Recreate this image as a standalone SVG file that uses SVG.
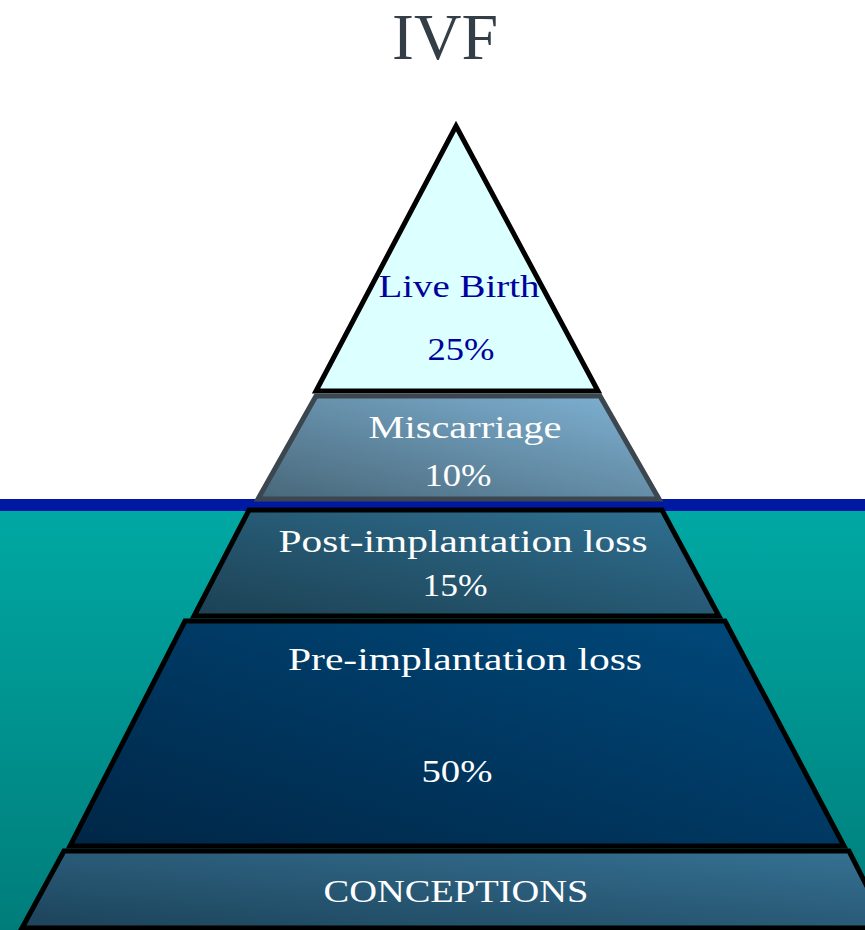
<svg xmlns="http://www.w3.org/2000/svg" width="865" height="930" viewBox="0 0 865 930">
  <defs>
    <linearGradient id="water" x1="0" y1="0" x2="0" y2="1">
      <stop offset="0" stop-color="#00a8a3"/>
      <stop offset="1" stop-color="#007d7b"/>
    </linearGradient>
    <linearGradient id="gMisc" x1="0" y1="1" x2="1" y2="0">
      <stop offset="0" stop-color="#486779"/>
      <stop offset="1" stop-color="#80b3d5"/>
    </linearGradient>
    <linearGradient id="gPost" x1="0" y1="1" x2="1" y2="0">
      <stop offset="0" stop-color="#1c4153"/>
      <stop offset="1" stop-color="#307193"/>
    </linearGradient>
    <linearGradient id="gPre" x1="0" y1="1" x2="1" y2="0">
      <stop offset="0" stop-color="#002646"/>
      <stop offset="1" stop-color="#004a7d"/>
    </linearGradient>
    <linearGradient id="gConc" x1="0" y1="1" x2="1" y2="0">
      <stop offset="0" stop-color="#1c435a"/>
      <stop offset="1" stop-color="#367294"/>
    </linearGradient>
  </defs>
  <style>
    .lbl { font-family: "Liberation Serif", "DejaVu Serif", serif; font-size: 32px; text-anchor: middle; fill: #ffffff; }
    .dark { fill: #00009c; }
    .edge { stroke: #000000; stroke-width: 5; stroke-linejoin: miter; }
    .title { font-family: "Liberation Serif", "DejaVu Serif", serif; font-size: 65px; text-anchor: middle; fill: #333e47; }
  </style>

  <!-- sea surface and water -->
  <g id="sea">
    <rect x="0" y="0" width="865" height="930" fill="#ffffff"/>
    <rect x="0" y="510" width="865" height="420" fill="url(#water)"/>
    <rect x="0" y="499" width="865" height="12" fill="#0019a2"/>
  </g>

  <text class="title" x="445" y="59" textLength="106" lengthAdjust="spacingAndGlyphs">IVF</text>

  <g id="live-birth">
    <polygon class="edge" points="456,126 598,391 316,391" fill="#dcffff" stroke-width="4"/>
    <text class="lbl dark" x="459" y="297" textLength="161" lengthAdjust="spacingAndGlyphs">Live Birth</text>
    <text class="lbl dark" x="461" y="360" textLength="67" lengthAdjust="spacingAndGlyphs">25%</text>
  </g>

  <g id="miscarriage">
    <polygon points="316,396 600,396 659,499 258,499" fill="url(#gMisc)" stroke="#3b464e" stroke-width="5"/>
    <text class="lbl" x="465" y="438" textLength="193" lengthAdjust="spacingAndGlyphs">Miscarriage</text>
    <text class="lbl" x="458" y="486" textLength="67" lengthAdjust="spacingAndGlyphs">10%</text>
  </g>

  <g id="post-implantation">
    <polygon class="edge" points="249,510 662,510 719,616 194,616" fill="url(#gPost)"/>
    <text class="lbl" x="463" y="552" textLength="369" lengthAdjust="spacingAndGlyphs">Post-implantation loss</text>
    <text class="lbl" x="455" y="596" textLength="65" lengthAdjust="spacingAndGlyphs">15%</text>
  </g>

  <g id="pre-implantation">
    <polygon class="edge" points="185,621 725,621 844,846 70,846" fill="url(#gPre)"/>
    <text class="lbl" x="465" y="670" textLength="354" lengthAdjust="spacingAndGlyphs">Pre-implantation loss</text>
    <text class="lbl" x="457" y="782" textLength="71" lengthAdjust="spacingAndGlyphs">50%</text>
  </g>

  <g id="conceptions">
    <polygon class="edge" points="64,851 849,851 888,928 22,928" fill="url(#gConc)"/>
    <text class="lbl" x="456" y="902" font-size="38" textLength="265" lengthAdjust="spacingAndGlyphs">CONCEPTIONS</text>
  </g>
</svg>
